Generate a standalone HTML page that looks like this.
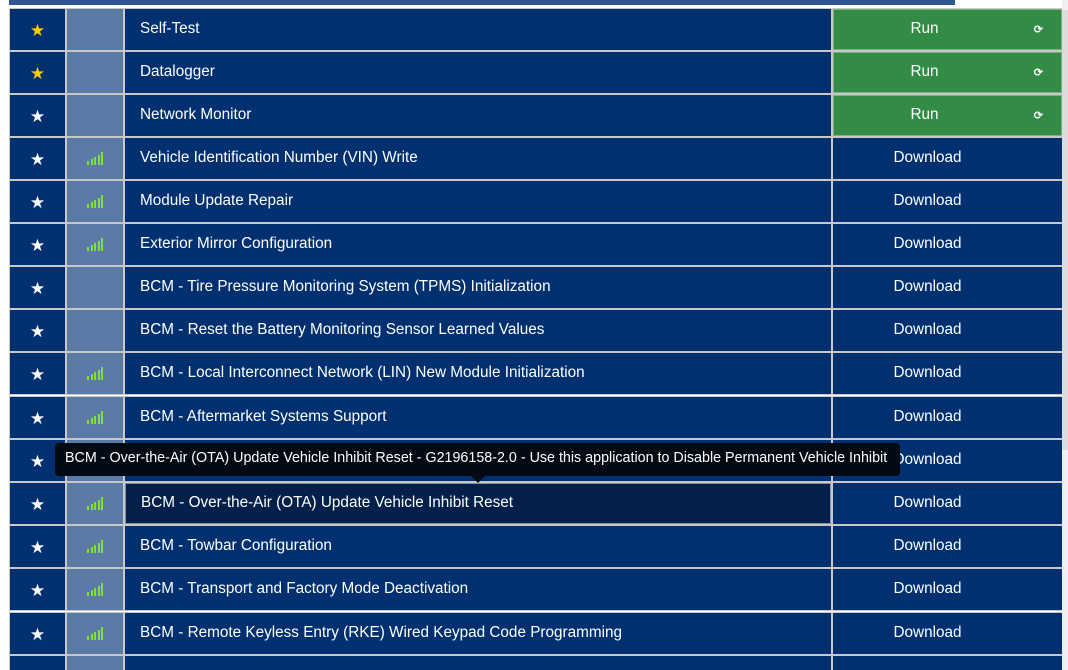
<!DOCTYPE html><html><head><style>
html,body{margin:0;width:1068px;height:670px;overflow:hidden}
body{background:#fff;font-family:"Liberation Sans",sans-serif;position:relative}
.r{position:absolute;left:9px;width:1053px;height:43px;background:#c8c8c8}
.c{position:absolute;top:1px;height:41px;background:#003070;color:#fff;font-size:15.3px;line-height:40px}
.a{left:1px;width:55px;text-align:center;font-size:17px;line-height:44px}
.b{left:58px;width:56px;background:#5b7aa5}
.t{left:116px;width:706px;padding-left:15px;box-sizing:border-box}
.d{left:824px;width:229px;text-align:center;padding-right:40px;box-sizing:border-box}
.g{background:#338c46;border:1px solid #7fae85;padding-right:46px;line-height:38px}
.bars{position:absolute;left:20px;top:14px;width:17px;height:13px}
.bars i{position:absolute;bottom:0;width:2.4px;background:#7ee03a}
.star{color:#fff}.y{color:#ffcc00}
.ic{position:absolute;right:18px;top:1px;font-size:11px;font-weight:bold}
</style></head><body>
<div style="position:absolute;left:9px;top:0;width:946px;height:5px;background:#2f5690"></div>
<div style="position:absolute;left:1062px;top:0;width:6px;height:670px;background:#f0f0f0"></div>
<div style="position:absolute;left:1062px;top:10px;width:6px;height:440px;background:#dcdcdc"></div>
<div id="t"></div>
<script>
var rows=[["Self-Test",1,0,1],["Datalogger",1,0,1],["Network Monitor",0,0,1],
["Vehicle Identification Number (VIN) Write",0,1],["Module Update Repair",0,1],["Exterior Mirror Configuration",0,1],
["BCM - Tire Pressure Monitoring System (TPMS) Initialization",0,0],["BCM - Reset the Battery Monitoring Sensor Learned Values",0,0],
["BCM - Local Interconnect Network (LIN) New Module Initialization",0,1],["BCM - Aftermarket Systems Support",0,1],["",0,1],
["BCM - Over-the-Air (OTA) Update Vehicle Inhibit Reset",0,1],["BCM - Towbar Configuration",0,1],["BCM - Transport and Factory Mode Deactivation",0,1],
["BCM - Remote Keyless Entry (RKE) Wired Keypad Code Programming",0,1],["",0,0,0,1]];
var h="",tops=[8,51,94,137,180,223,266,309,352,396,439,482,525,568,612,655];
rows.forEach(function(r,i){
var bars=r[2]?'<div class="bars"><i style="left:0;height:4px"></i><i style="left:3.5px;height:6px"></i><i style="left:7px;height:8px"></i><i style="left:10.5px;height:10.5px"></i><i style="left:14px;height:13px"></i></div>':'';
var hl=i==11?'background:#02204a;border:1px solid #8090a8;box-sizing:border-box;line-height:38px;':'';
h+='<div class="r" style="top:'+tops[i]+'px"><div class="c a"><span class="'+(r[1]?'y':'star')+'">★</span></div><div class="c b">'+bars+'</div><div class="c t" style="'+hl+'">'+r[0]+'</div>'+
(r[3]?'<div class="c d g">Run<span class="ic">⟳</span></div>':'<div class="c d">'+(r[4]?'':'Download')+'</div>')+'</div>';});
document.getElementById('t').innerHTML=h;
</script>
<div style="position:absolute;left:55px;top:443px;width:845px;height:33px;background:#020a14;border-radius:4px;color:#fff;font-size:14.3px;line-height:31px;padding-left:10px;box-sizing:border-box;white-space:nowrap">BCM - Over-the-Air (OTA) Update Vehicle Inhibit Reset - G2196158-2.0 - Use this application to Disable Permanent Vehicle Inhibit</div>
<div style="position:absolute;left:471px;top:476px;width:0;height:0;border-left:7px solid transparent;border-right:7px solid transparent;border-top:7px solid #020a14"></div>
</body></html>
